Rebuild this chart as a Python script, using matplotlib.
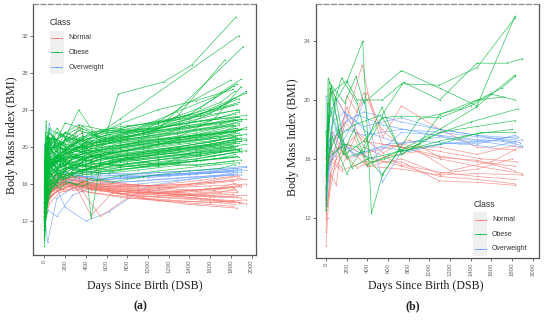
import numpy as np
import matplotlib
matplotlib.use("Agg")
import matplotlib.pyplot as plt
from matplotlib.patches import Rectangle

# ggplot default hues for the three classes
classes = ["Normal", "Obese", "Overweight"]
colors = {"Normal": "#F8766D", "Obese": "#00BA38", "Overweight": "#619CFF"}

# visit schedules (days since birth) shared by the panel (a) subjects
a_sched = [
    [0, 15, 60, 180, 365, 730, 1095, 1460, 1825],
    [0, 30, 120, 270, 450, 900, 1280, 1640, 1900],
    [0, 7, 90, 200, 400, 620, 1000, 1400, 1860],
    [0, 45, 150, 330, 540, 800, 1200, 1600, 1950],
    [0, 10, 30, 90, 150, 240, 365, 500, 730, 1100, 1500, 1880],
    [0, 20, 45, 120, 200, 300, 450, 650, 950, 1300, 1700, 1840],
]

# panel (a): (schedule, BMI per visit)
a_obese = [
    (0, [14.5, 18.2, 19.0, 18.5, 19.2, 20.1, 20.8, 21.5, 22.4]),
    (1, [12.1, 16.0, 17.2, 17.8, 18.1, 18.9, 19.4, 20.2, 21.0]),
    (2, [16.0, 19.5, 18.3, 19.8, 20.5, 21.0, 22.3, 23.5, 26.8]),
    (3, [13.0, 17.8, 18.8, 17.5, 18.0, 18.4, 19.0, 19.6, 20.3]),
    (0, [11.0, 15.2, 17.4, 17.9, 17.2, 17.8, 18.3, 18.7, 19.4]),
    (1, [15.2, 20.8, 19.5, 20.2, 21.3, 22.0, 23.8, 25.4, 27.3]),
    (2, [10.5, 14.0, 16.8, 17.5, 18.6, 18.2, 19.1, 19.9, 20.8]),
    (3, [17.0, 21.5, 20.3, 21.8, 21.0, 22.2, 22.9, 24.1, 25.8]),
    (0, [13.8, 22.8, 18.0, 19.5, 18.8, 19.7, 20.3, 20.9, 21.6]),
    (1, [12.5, 17.0, 18.5, 19.0, 18.4, 19.2, 19.8, 20.1, 20.6]),
    (2, [14.0, 18.8, 20.2, 22.6, 21.8, 20.5, 21.2, 22.0, 23.2]),
    (3, [15.5, 19.2, 19.8, 24.0, 20.5, 21.0, 21.8, 22.5, 23.0]),
    (0, [10.2, 13.5, 16.0, 16.8, 17.5, 17.9, 18.2, 18.0, 18.5]),
    (1, [16.5, 20.0, 21.6, 20.8, 19.5, 20.3, 20.9, 21.4, 21.9]),
    (2, [12.8, 16.5, 17.6, 18.2, 17.9, 18.5, 19.0, 19.5, 20.1]),
    (3, [11.8, 15.0, 16.9, 17.4, 18.0, 18.8, 19.3, 19.0, 19.6]),
    (0, [15.0, 19.0, 20.5, 21.2, 20.6, 22.5, 24.0, 25.0, 26.2]),
    (1, [13.2, 18.2, 17.0, 17.6, 18.3, 17.8, 18.4, 19.0, 19.5]),
    (2, [14.8, 20.6, 19.2, 18.6, 19.4, 20.0, 20.7, 21.1, 21.7]),
    (3, [12.0, 16.8, 17.9, 18.5, 19.1, 19.6, 20.4, 21.0, 22.1]),
    (0, [16.2, 21.0, 19.8, 20.4, 21.5, 21.8, 22.6, 23.4, 24.5]),
    (1, [11.5, 15.8, 16.5, 17.2, 17.0, 17.5, 18.0, 18.2, 18.6]),
    (2, [13.5, 17.5, 18.9, 19.6, 20.2, 20.9, 21.5, 22.3, 22.9]),
    (3, [14.2, 19.8, 18.5, 17.9, 18.7, 19.2, 19.8, 20.3, 20.9]),
    (0, [12.4, 17.4, 18.7, 18.2, 19.0, 18.6, 19.2, 19.7, 20.2]),
    (1, [15.8, 21.2, 20.0, 19.4, 20.1, 20.7, 21.4, 22.0, 22.8]),
    (2, [11.2, 14.8, 16.2, 16.9, 17.6, 17.3, 17.9, 18.4, 19.0]),
    (3, [13.6, 18.0, 19.4, 20.0, 19.2, 20.1, 20.6, 21.3, 21.9]),
    (0, [9.3, 12.8, 15.5, 16.5, 17.0, 17.6, 17.9, 18.5, 18.9]),
    (1, [14.6, 19.5, 18.8, 21.0, 19.8, 20.4, 21.0, 23.0, 26.5]),
    (2, [15.6, 20.2, 21.0, 20.3, 19.9, 20.6, 21.6, 22.8, 24.0]),
    (3, [12.6, 17.2, 18.2, 18.9, 19.5, 19.0, 19.6, 20.2, 20.7]),
    (0, [13.4, 18.6, 17.8, 19.2, 20.0, 20.6, 21.1, 21.8, 22.3]),
    (1, [10.8, 14.5, 16.3, 17.0, 17.8, 18.2, 18.6, 19.3, 19.8]),
    (2, [14.4, 19.0, 18.0, 19.0, 18.5, 19.3, 19.8, 20.4, 21.0]),
    (3, [16.8, 22.0, 21.2, 22.4, 21.9, 21.5, 22.2, 22.9, 23.4]),
    (0, [12.9, 16.2, 17.1, 17.6, 18.3, 18.0, 18.6, 19.1, 19.9]),
    (1, [14.0, 18.9, 17.6, 18.4, 19.0, 19.5, 20.0, 20.6, 21.3]),
    (2, [12.2, 16.0, 17.3, 18.0, 18.8, 19.4, 20.0, 21.2, 22.0]),
    (3, [15.2, 20.5, 19.0, 19.6, 20.3, 20.8, 21.5, 23.6, 26.0]),
    (0, [11.8, 16.6, 18.0, 18.8, 19.5, 19.9, 20.5, 21.0, 21.2]),
    (1, [13.9, 17.8, 18.9, 19.7, 20.4, 21.0, 21.6, 22.2, 23.0]),
    (2, [15.0, 19.8, 20.5, 21.5, 20.8, 21.3, 22.0, 23.0, 24.6]),
    (3, [12.3, 16.1, 17.5, 18.2, 18.9, 19.3, 19.9, 20.5, 21.4]),
    (4, [13.5, 15.8, 18.2, 17.5, 19.0, 18.4, 19.6, 18.8, 19.5, 20.2, 20.8, 21.5]),
    (4, [11.2, 14.0, 16.5, 18.0, 17.2, 18.5, 17.8, 18.6, 19.0, 19.4, 19.9, 20.4]),
    (4, [15.8, 18.5, 21.0, 19.2, 20.5, 19.8, 21.2, 20.4, 21.0, 21.8, 22.5, 23.8]),
    (4, [12.6, 16.4, 15.5, 17.6, 16.8, 18.0, 17.4, 17.9, 18.4, 18.8, 19.3, 19.6]),
    (4, [14.2, 17.0, 19.5, 20.8, 19.0, 20.2, 19.4, 20.6, 21.2, 22.0, 23.5, 25.2]),
    (4, [10.6, 13.2, 15.8, 16.8, 17.9, 17.1, 18.2, 17.6, 18.1, 18.6, 19.0, 19.8]),
    (4, [16.4, 19.8, 18.6, 20.0, 21.4, 20.6, 19.8, 21.0, 21.6, 22.1, 22.8, 23.2]),
    (4, [13.0, 15.2, 17.4, 16.6, 18.2, 17.7, 18.8, 19.2, 18.7, 19.5, 20.1, 20.9]),
    (4, [12.0, 14.8, 17.0, 18.6, 17.9, 19.1, 18.5, 19.4, 19.9, 20.6, 21.4, 22.4]),
    (4, [15.0, 20.4, 19.0, 18.2, 19.6, 21.0, 20.2, 21.6, 22.2, 22.6, 23.3, 24.0]),
    (4, [11.6, 14.4, 16.2, 15.6, 17.2, 16.8, 17.6, 17.2, 17.8, 18.2, 18.5, 18.9]),
    (4, [14.6, 18.0, 20.0, 19.4, 18.6, 19.9, 20.8, 20.1, 20.6, 21.2, 21.9, 22.6]),
    (4, [13.2, 16.8, 18.4, 19.8, 20.6, 19.4, 18.9, 19.8, 20.4, 20.9, 21.3, 21.8]),
    (4, [10.0, 12.5, 15.0, 16.4, 17.0, 17.8, 17.3, 18.0, 18.5, 18.9, 19.4, 19.7]),
    (4, [16.8, 21.6, 20.4, 21.2, 20.0, 21.5, 22.2, 21.4, 22.0, 22.8, 23.6, 24.8]),
    (5, [12.2, 15.6, 17.8, 18.8, 18.0, 19.2, 18.6, 19.4, 19.8, 20.4, 21.0, 21.3]),
    (5, [14.8, 19.2, 18.0, 19.6, 20.8, 19.9, 20.6, 21.2, 21.8, 22.4, 23.2, 23.5]),
    (5, [11.0, 14.2, 16.0, 17.2, 16.6, 17.8, 17.2, 18.0, 18.4, 18.9, 19.5, 19.8]),
    (5, [15.4, 20.0, 21.8, 20.2, 19.4, 20.6, 21.4, 20.8, 21.5, 22.6, 24.4, 25.3]),
    (5, [13.4, 16.0, 17.2, 16.4, 17.6, 18.4, 17.8, 18.6, 19.1, 19.6, 20.0, 20.4]),
    (5, [12.8, 17.4, 19.0, 18.2, 19.4, 18.8, 19.9, 19.3, 20.0, 20.7, 21.5, 22.0]),
    (5, [16.0, 18.6, 20.6, 22.0, 21.0, 20.4, 21.6, 22.0, 21.6, 22.0, 22.6, 23.0]),
    (5, [10.4, 13.0, 15.4, 16.2, 17.4, 16.8, 17.9, 17.4, 17.9, 18.3, 18.8, 19.2]),
    (5, [14.0, 16.8, 18.8, 17.8, 18.9, 20.0, 19.2, 20.1, 20.6, 21.0, 21.6, 22.2]),
    (5, [13.6, 18.4, 17.4, 18.6, 18.1, 19.0, 18.4, 19.0, 19.4, 19.8, 20.3, 20.6]),
    (5, [15.6, 19.6, 20.8, 19.8, 21.6, 21.0, 20.4, 21.0, 21.7, 23.0, 24.8, 26.0]),
    (5, [11.8, 15.0, 16.6, 17.6, 17.0, 18.2, 17.6, 18.4, 18.8, 19.2, 19.7, 20.0]),
    (5, [12.4, 16.2, 18.0, 19.0, 18.4, 17.9, 19.0, 18.8, 19.4, 20.0, 20.8, 21.0]),
    (5, [14.4, 17.6, 19.4, 20.4, 19.6, 20.9, 20.2, 20.9, 21.3, 21.9, 22.5, 22.9]),
    (5, [13.8, 18.8, 17.6, 19.2, 18.6, 19.6, 19.0, 19.7, 20.2, 20.5, 21.0, 21.6]),
    (4, [12.5, 15.0, 16.8, 16.0, 15.6, 16.2, 15.8, 16.4, 16.9, 17.4, 17.9, 18.3]),
    (5, [13.1, 15.4, 16.4, 15.8, 16.3, 15.9, 16.6, 16.2, 16.8, 17.3, 17.7, 18.1]),
]

# panel (a) subjects with their own visit days
a_obese_extra_days = [
    [0, 30, 120, 365, 560, 713, 1150, 1420, 1850],
    [0, 30, 180, 400, 730, 1880],
    [0, 60, 365, 1100, 1920],
    [0, 30, 270, 900, 1300, 1744],
    [0, 40, 180, 365, 450, 540, 730, 1100, 1460, 1800],
    [0, 20, 200, 600, 1000, 1400, 1800],
    [0, 50, 300, 700, 1100, 1500, 1830],
]
a_obese_extra_bmi = [
    [15.5, 19.0, 18.5, 20.0, 20.0, 25.7, 27.0, 28.8, 34.0],
    [13.0, 17.5, 19.0, 20.5, 23.0, 32.0],
    [15.0, 20.0, 19.5, 22.0, 30.8],
    [14.0, 18.0, 19.0, 20.5, 23.5, 29.4],
    [14.5, 21.0, 20.5, 22.0, 12.3, 18.5, 19.0, 18.0, 19.5, 20.0],
    [16.0, 21.2, 20.0, 21.5, 22.0, 24.8, 27.2],
    [13.5, 18.5, 19.8, 21.2, 22.5, 24.2, 26.6],
]

a_normal = [
    (0, [12.5, 14.0, 15.2, 15.8, 15.5, 15.0, 14.8, 14.5, 14.2]),
    (1, [13.0, 15.5, 16.2, 16.0, 15.4, 15.1, 14.9, 14.6, 14.5]),
    (2, [11.8, 13.8, 15.0, 15.6, 16.0, 15.5, 15.2, 14.8, 15.1]),
    (3, [14.0, 15.8, 16.5, 16.8, 16.2, 15.9, 15.6, 15.8, 16.0]),
    (0, [12.0, 14.5, 15.8, 16.3, 15.9, 15.4, 15.0, 14.7, 14.9]),
    (1, [13.5, 16.0, 16.8, 16.4, 15.8, 15.6, 15.3, 15.5, 15.7]),
    (2, [12.2, 14.2, 15.5, 16.2, 15.8, 15.3, 14.4, 13.8, 13.4]),
    (3, [13.2, 15.2, 16.0, 22.3, 16.5, 16.0, 15.7, 16.2, 16.5]),
    (0, [11.5, 13.5, 14.8, 15.5, 15.2, 14.6, 14.2, 13.9, 13.6]),
    (1, [14.2, 16.5, 17.2, 16.8, 16.0, 15.8, 15.9, 16.2, 16.6]),
    (2, [12.8, 15.0, 15.9, 16.5, 16.2, 15.7, 15.4, 15.0, 15.3]),
    (3, [13.8, 15.5, 16.2, 15.8, 12.5, 14.5, 14.2, 14.0, 14.3]),
    (0, [12.6, 14.8, 15.6, 16.0, 15.7, 15.2, 15.5, 15.9, 16.3]),
    (1, [11.9, 14.1, 15.3, 15.9, 15.5, 15.0, 14.7, 14.3, 14.0]),
    (2, [13.4, 15.6, 16.4, 17.0, 16.6, 16.1, 15.8, 16.0, 16.8]),
    (3, [12.3, 14.6, 15.4, 16.1, 15.6, 15.2, 14.9, 14.6, 14.8]),
    (0, [13.1, 15.3, 16.1, 16.6, 16.3, 15.8, 15.6, 15.3, 15.6]),
    (1, [12.7, 14.9, 15.7, 16.2, 15.9, 15.4, 15.1, 15.3, 15.9]),
    (2, [14.0, 16.2, 17.0, 16.7, 16.1, 15.6, 15.2, 14.9, 14.6]),
    (3, [11.6, 13.9, 15.1, 15.7, 15.3, 14.8, 14.5, 14.2, 13.9]),
    (4, [12.0, 13.4, 14.6, 15.4, 15.9, 16.2, 15.8, 15.4, 15.0, 14.6, 14.4, 14.0]),
    (5, [13.0, 14.4, 15.2, 15.9, 16.4, 16.0, 15.6, 15.3, 15.0, 15.2, 15.6, 16.1]),
    (4, [11.4, 12.8, 14.2, 15.0, 15.6, 15.9, 16.2, 15.6, 15.2, 15.0, 15.4, 15.8]),
    (5, [12.6, 13.8, 15.0, 15.6, 16.0, 15.5, 15.1, 14.8, 14.5, 14.2, 14.0, 13.8]),
    (4, [13.6, 15.0, 16.0, 16.5, 16.2, 16.8, 16.4, 16.0, 15.7, 15.9, 16.4, 16.9]),
    (5, [12.2, 13.6, 14.8, 15.6, 15.2, 15.8, 12.6, 15.0, 14.6, 14.8, 15.1, 15.5]),
]

a_overweight = [
    (0, [20.3, 14.5, 15.8, 16.3, 16.8, 16.9, 17.0, 17.2, 17.5]),
    (1, [13.0, 9.7, 14.5, 15.5, 16.0, 16.3, 16.6, 16.9, 17.3]),
    (2, [12.0, 15.0, 16.2, 13.5, 12.0, 13.0, 15.8, 16.5, 17.1]),
    (3, [14.2, 20.2, 16.5, 16.9, 16.4, 16.7, 17.0, 17.4, 17.8]),
    (0, [11.5, 13.8, 15.4, 16.1, 16.5, 16.2, 16.5, 16.8, 17.0]),
    (1, [15.0, 16.8, 17.5, 17.0, 16.6, 16.8, 17.1, 17.3, 17.6]),
    (2, [13.5, 16.0, 16.7, 17.2, 16.8, 16.5, 16.7, 17.0, 17.4]),
    (3, [12.4, 14.9, 16.0, 16.6, 17.0, 16.8, 16.9, 17.2, 17.5]),
    (0, [14.6, 17.8, 17.0, 16.5, 16.3, 16.6, 16.9, 17.1, 17.3]),
    (1, [11.0, 13.2, 12.5, 14.8, 15.6, 16.0, 16.4, 16.8, 17.0]),
    (2, [13.0, 15.5, 16.3, 16.9, 17.3, 17.1, 17.2, 17.4, 17.7]),
    (3, [15.8, 22.6, 18.0, 17.5, 17.2, 17.0, 17.3, 17.6, 17.9]),
]

# panel (b): each subject has its own visit days
b_obese_days = [
    [0, 20, 100, 200, 355, 440, 550, 700, 1100, 1450, 1830],
    [0, 30, 180, 290, 365, 730, 1100, 1460, 1830],
    [0, 50, 200, 300, 545, 730, 1095, 1460, 1830],
    [0, 15, 120, 270, 545, 750, 1100, 1460, 1750, 1900],
    [0, 40, 180, 365, 540, 730, 1100, 1400, 1600, 1830],
    [0, 25, 150, 300, 450, 560, 730, 1000, 1400, 1860],
    [0, 60, 200, 365, 540, 730, 1100, 1460, 1830],
    [0, 10, 90, 200, 365, 545, 730, 1095, 1460, 1800],
    [0, 30, 120, 250, 400, 600, 900, 1100, 1460, 1720],
    [0, 20, 60, 180, 300, 545, 900, 1300, 1700, 1830],
    [0, 50, 160, 270, 400, 700, 1100, 1500, 1830],
]
b_obese_bmi = [
    [12.8, 21.5, 20.0, 21.2, 24.0, 12.3, 15.0, 16.5, 18.0, 19.5, 21.7],
    [14.0, 21.2, 19.8, 21.6, 19.8, 22.0, 20.8, 19.6, 25.7],
    [15.5, 20.5, 21.3, 20.0, 20.0, 21.1, 21.0, 22.2, 25.6],
    [13.2, 19.8, 17.5, 18.3, 19.0, 21.2, 20.0, 22.5, 22.5, 22.8],
    [12.5, 20.8, 16.3, 17.2, 18.8, 18.9, 18.8, 19.6, 20.4, 20.0],
    [16.0, 18.5, 21.5, 19.8, 15.8, 16.0, 16.3, 17.5, 18.5, 19.4],
    [14.8, 17.5, 15.0, 16.8, 19.5, 16.3, 17.8, 18.2, 18.6],
    [17.9, 15.2, 20.2, 16.1, 16.5, 18.8, 16.5, 17.2, 17.7, 18.0],
    [13.8, 16.4, 18.0, 15.4, 16.0, 16.3, 17.0, 19.0, 20.0, 20.2],
    [15.0, 19.0, 16.3, 17.0, 16.8, 14.9, 18.7, 19.4, 20.8, 21.6],
    [16.5, 21.0, 16.3, 18.0, 15.6, 16.5, 17.0, 17.8, 17.8],
]

b_normal_days = [
    [0, 15, 60, 200, 365, 730, 1100, 1460, 1830],
    [0, 30, 120, 350, 420, 540, 730, 1100, 1460, 1900],
    [0, 40, 100, 200, 300, 400, 550, 730, 1100, 1460, 1830],
    [0, 20, 150, 365, 730, 1095, 1460, 1830],
    [0, 50, 200, 400, 730, 1100, 1460, 1900],
    [0, 30, 180, 365, 730, 1095, 1460, 1830],
    [0, 60, 200, 450, 730, 1100, 1500, 1850],
    [0, 20, 120, 300, 600, 900, 1200, 1600, 1880],
    [0, 40, 250, 365, 540, 730, 1100, 1460, 1830],
    [0, 15, 100, 270, 400, 730, 1095, 1460, 1800],
    [0, 30, 150, 300, 550, 800, 1100, 1460, 1830],
    [0, 60, 200, 365, 730, 1100, 1460, 1830],
]
b_normal_bmi = [
    [10.1, 12.0, 16.5, 17.0, 16.2, 15.5, 14.8, 14.6, 14.3],
    [12.3, 13.5, 16.8, 22.4, 20.0, 17.0, 16.8, 16.0, 15.5, 15.0],
    [11.9, 15.0, 14.2, 20.3, 19.2, 20.5, 17.5, 19.6, 18.0, 16.8, 16.6],
    [13.0, 16.0, 15.2, 15.8, 15.8, 14.5, 14.4, 14.2],
    [12.5, 14.8, 16.8, 15.5, 15.3, 14.9, 15.0, 14.9],
    [14.0, 16.5, 18.5, 17.2, 16.8, 16.2, 15.8, 15.5],
    [13.5, 17.8, 16.0, 16.5, 17.0, 16.5, 16.0, 15.8],
    [12.8, 15.5, 16.8, 15.4, 16.2, 16.5, 15.2, 15.8, 16.8],
    [14.5, 20.8, 18.3, 20.5, 18.0, 16.8, 16.8, 16.3, 16.9],
    [11.0, 14.5, 16.0, 17.5, 15.5, 16.0, 15.0, 15.3, 16.0],
    [13.3, 16.2, 15.4, 17.8, 16.4, 17.3, 16.1, 15.9, 15.2],
    [15.0, 16.0, 19.5, 16.8, 15.6, 15.1, 14.8, 14.6],
]

b_overweight_days = [
    [0, 5, 60, 200, 365, 730, 1100, 1460, 1830],
    [0, 30, 100, 270, 365, 545, 730, 1100, 1460, 1900],
    [0, 40, 200, 365, 730, 1100, 1460, 1850],
    [0, 15, 150, 300, 600, 900, 1300, 1700, 1880],
    [0, 60, 180, 400, 730, 1095, 1460, 1830],
    [0, 20, 120, 270, 540, 800, 1200, 1600, 1900],
    [0, 30, 200, 365, 730, 1100, 1460, 1830],
    [0, 45, 150, 450, 730, 1100, 1460, 1860],
    [0, 15, 90, 300, 550, 900, 1300, 1700, 1900],
]
b_overweight_bmi = [
    [20.3, 13.0, 17.5, 18.0, 17.6, 18.0, 17.8, 17.5, 17.3],
    [12.8, 16.5, 20.1, 18.0, 20.0, 14.4, 16.5, 17.0, 17.2, 16.8],
    [14.0, 17.0, 18.6, 19.2, 18.5, 18.0, 17.6, 17.4],
    [13.5, 16.0, 16.8, 16.3, 17.0, 17.2, 17.0, 17.3, 17.1],
    [15.5, 18.5, 19.2, 17.8, 17.0, 17.5, 17.0, 17.6],
    [12.5, 15.0, 17.6, 16.2, 16.8, 16.5, 17.1, 16.8, 17.3],
    [14.8, 17.3, 19.0, 18.2, 18.8, 18.0, 17.6, 17.1],
    [16.0, 19.5, 17.0, 16.0, 17.8, 17.6, 17.3, 17.5],
    [13.2, 15.5, 16.2, 19.0, 18.3, 17.8, 17.3, 17.2, 16.9],
]

x_ticks = list(range(0, 2001, 200))
a_yticks = [12, 16, 20, 24, 28, 32]
b_yticks = [12, 16, 20, 24]

serif = ["Liberation Serif", "DejaVu Serif"]
sans = ["Liberation Sans", "DejaVu Sans"]


def draw_subject(ax, days, bmi, cls, alpha=0.8):
    ax.plot(days, bmi, color=colors[cls], lw=0.5, marker="o", ms=1.0,
            mew=0, alpha=alpha)


def style_axes(ax, yticks):
    ax.set_xticks(x_ticks)
    ax.set_yticks(yticks)
    ax.tick_params(axis="both", length=2, width=0.6, color="#555555",
                   labelcolor="#666666", labelsize=4.3, pad=1.5)
    ax.tick_params(axis="x", labelrotation=90)
    for lab in ax.get_xticklabels() + ax.get_yticklabels():
        lab.set_fontfamily(sans)
    for side in ["left", "bottom", "right"]:
        ax.spines[side].set_color("#555555")
        ax.spines[side].set_linewidth(0.9)
    ax.spines["top"].set_color("#888888")
    ax.spines["top"].set_linewidth(0.9)
    ax.spines["top"].set_linestyle((0, (4, 2)))


def draw_legend(ax, x0, y_title, ys):
    # ggplot-style legend: title, grey key boxes, short line with a dot
    ax.text(x0, y_title, "Class", transform=ax.transAxes, fontsize=6.2,
            family=sans, color="#333333", va="center", ha="left")
    kw, kh = 0.063, 0.058
    for cls, y in zip(classes, ys):
        ax.add_patch(Rectangle((x0, y - kh / 2), kw, kh, transform=ax.transAxes,
                               facecolor="#F0F0F0", edgecolor="none", zorder=5))
        ax.plot([x0 + 0.006, x0 + kw - 0.006], [y, y], transform=ax.transAxes,
                color=colors[cls], lw=0.6, zorder=6)
        ax.plot([x0 + kw / 2], [y], transform=ax.transAxes, color=colors[cls],
                marker="o", ms=1.0, mew=0, zorder=6)
        ax.text(x0 + kw + 0.02, y, cls, transform=ax.transAxes, fontsize=5.0,
                family=sans, color="#333333", va="center", ha="left", zorder=6)


fig = plt.figure(figsize=(5.5, 3.22), dpi=100)
W, H = 550.0, 322.0

# panel (a): overweight and normal first so obese sits on top, as in the source
ax_a = fig.add_axes([33 / W, (H - 255) / H, (256 - 33) / W, (255 - 4) / H])
for s, vals in a_overweight:
    draw_subject(ax_a, a_sched[s], vals, "Overweight", 0.75)
for s, vals in a_normal:
    draw_subject(ax_a, a_sched[s], vals, "Normal", 0.8)
for s, vals in a_obese:
    draw_subject(ax_a, a_sched[s], vals, "Obese")
for d, v in zip(a_obese_extra_days, a_obese_extra_bmi):
    draw_subject(ax_a, d, v, "Obese")
ax_a.set_xlim(-111, 2043)
ax_a.set_ylim(8.35, 35.4)
style_axes(ax_a, a_yticks)
draw_legend(ax_a, 0.075, 0.925, [0.865, 0.807, 0.749])

# panel (b)
ax_b = fig.add_axes([315.7 / W, (H - 257.7) / H, (539.3 - 315.7) / W, (257.7 - 4.3) / H])
for d, v in zip(b_normal_days, b_normal_bmi):
    draw_subject(ax_b, d, v, "Normal", 0.75)
for d, v in zip(b_overweight_days, b_overweight_bmi):
    draw_subject(ax_b, d, v, "Overweight", 0.75)
for d, v in zip(b_obese_days, b_obese_bmi):
    draw_subject(ax_b, d, v, "Obese")
ax_b.set_xlim(-100, 2064)
ax_b.set_ylim(9.28, 26.5)
style_axes(ax_b, b_yticks)
draw_legend(ax_b, 0.705, 0.21, [0.15, 0.093, 0.036])

# axis titles and panel captions
for xc, yc in [(12, 135), (293, 137)]:
    fig.text(xc / W, 1 - yc / H, "Body Mass Index (BMI)", rotation=90,
             ha="center", va="center", family=serif, fontsize=8.6, color="#222222")
for xc in [145, 426]:
    fig.text(xc / W, 1 - 286 / H, "Days Since Birth (DSB)", ha="center",
             va="center", family=serif, fontsize=8.6, color="#222222")
for xc, lab in [(140, "a"), (413, "b")]:
    fig.text(xc / W, 1 - 306 / H, "(" + lab + ")", ha="center", va="center",
             family=serif, fontsize=8.6, fontweight="bold", color="#222222")

fig.savefig("out.png", dpi=100)
